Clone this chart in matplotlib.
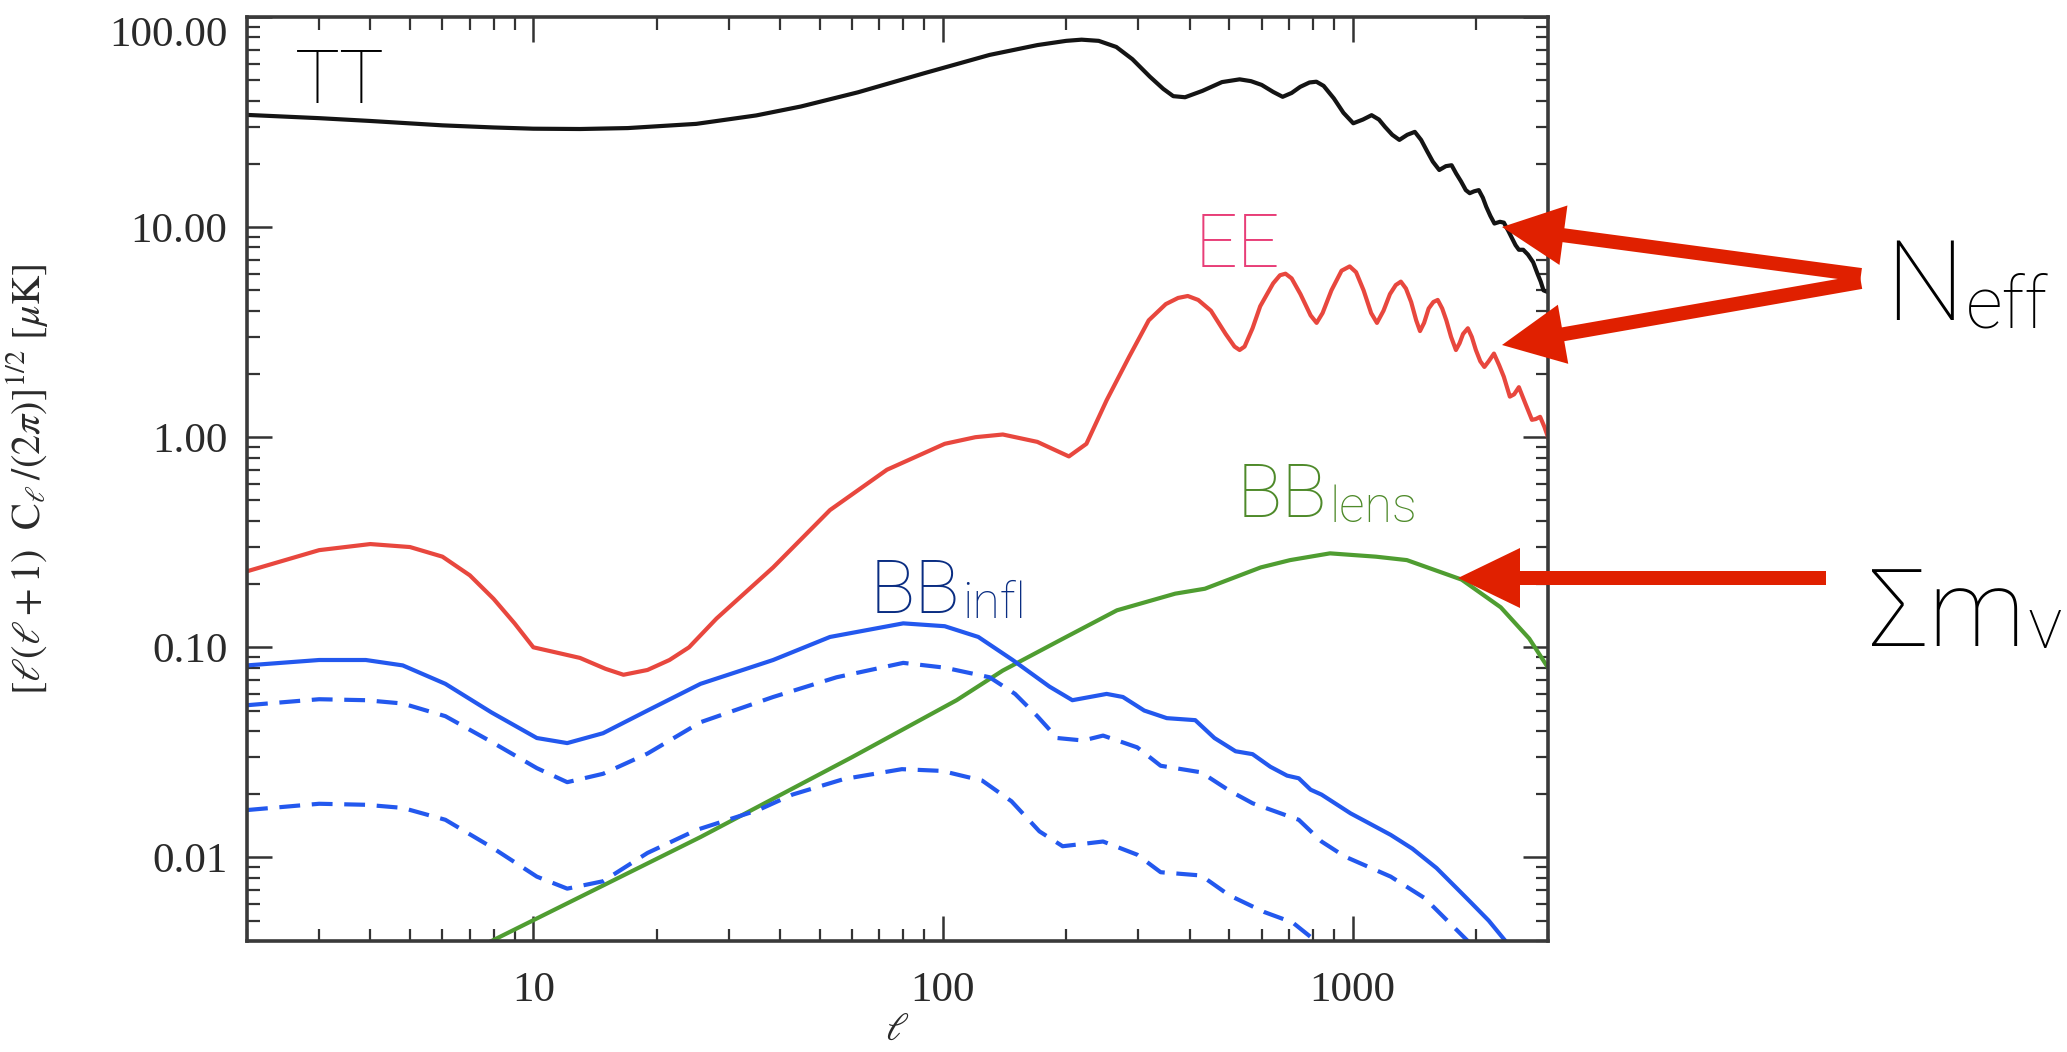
import numpy as np
import matplotlib
matplotlib.use('Agg')
import matplotlib.pyplot as plt
from matplotlib.patches import FancyArrow
from matplotlib.transforms import IdentityTransform
from matplotlib.ticker import LogLocator, NullFormatter

plt.rcParams['mathtext.fontset'] = 'stix'

# ---- data: multipole ell and [l(l+1)C_l/2pi]^(1/2) in uK ----
ell_tt = [2, 3, 4, 6, 8, 10, 13, 17, 25, 35, 45, 62, 90, 130, 170, 200, 218, 240,
          265, 290, 320, 345, 365, 390, 430, 480, 530, 565, 600, 640, 675, 710, 745,
          785, 816, 850, 900, 950, 1004, 1060, 1113, 1160, 1200, 1250, 1301, 1360,
          1419, 1470, 1520, 1570, 1628, 1690, 1745, 1790, 1840, 1890, 1932, 1980,
          2033, 2080, 2120, 2170, 2220, 2290, 2341, 2400, 2440, 2500, 2547, 2610,
          2680, 2760, 2828, 2880, 2925, 3000]
tt = [34.2, 33.0, 32.0, 30.5, 29.8, 29.4, 29.3, 29.6, 31.0, 34.0, 37.5, 43.8, 54.0,
      66.0, 73.5, 77.0, 78.0, 77.0, 72.0, 63.0, 52.0, 45.5, 42.0, 41.5, 44.5, 49.0,
      50.5, 49.5, 47.5, 44.0, 41.7, 43.5, 46.5, 48.8, 49.2, 47.0, 41.0, 35.0, 31.2,
      32.5, 34.1, 32.5, 30.0, 27.5, 26.0, 27.5, 28.4, 26.0, 23.0, 20.5, 18.7, 19.5,
      19.7, 18.0, 16.5, 15.0, 14.5, 14.8, 15.0, 13.8, 12.5, 11.3, 10.4, 10.6, 10.5,
      9.6, 9.0, 8.2, 7.8, 7.8, 7.4, 6.8, 6.0, 5.5, 5.0, 4.9]

ell_ee = [2, 3, 4, 5, 6, 7, 8, 9, 10, 11.5, 13, 15, 16.6, 19, 21.5, 24, 28, 38.5,
          53, 73, 101, 120, 140, 170, 203, 224, 251, 285, 318, 350, 375, 396, 420,
          451, 490, 515, 530, 545, 570, 595, 640, 665, 686, 710, 746, 790, 817, 845,
          888, 940, 984, 1020, 1064, 1110, 1147, 1190, 1234, 1275, 1312, 1350, 1390,
          1430, 1461, 1495, 1534, 1575, 1614, 1655, 1694, 1740, 1788, 1825, 1861,
          1912, 1955, 2000, 2050, 2098, 2150, 2214, 2280, 2340, 2421, 2480, 2547,
          2640, 2741, 2800, 2870, 2940, 3000]
ee = [0.23, 0.29, 0.31, 0.30, 0.27, 0.22, 0.17, 0.13, 0.10, 0.094, 0.089, 0.079,
      0.074, 0.078, 0.087, 0.10, 0.137, 0.24, 0.45, 0.70, 0.93, 1.0, 1.03, 0.95,
      0.81, 0.93, 1.5, 2.42, 3.6, 4.3, 4.6, 4.7, 4.5, 4.0, 3.1, 2.7, 2.6, 2.7, 3.3,
      4.2, 5.4, 5.9, 6.0, 5.7, 4.8, 3.8, 3.5, 3.9, 5.0, 6.2, 6.5, 6.1, 5.0, 3.9,
      3.5, 4.0, 4.8, 5.3, 5.5, 5.1, 4.4, 3.6, 3.2, 3.5, 4.1, 4.4, 4.5, 4.1, 3.6,
      3.0, 2.6, 2.8, 3.1, 3.3, 3.0, 2.6, 2.3, 2.16, 2.3, 2.5, 2.2, 1.94, 1.56, 1.6,
      1.73, 1.45, 1.21, 1.22, 1.25, 1.12, 1.0]

ell_bb = [2, 3, 3.9, 4.8, 6.1, 7.9, 10.2, 12.1, 14.8, 19, 25.6, 38.5, 53, 80, 101,
          122, 148, 182, 207, 251, 275, 310, 352, 413, 460, 518, 570, 630, 692, 739,
          790, 840, 989, 1100, 1239, 1400, 1603, 1800, 1945, 2150, 2362, 2450]
bb_infl = [0.082, 0.087, 0.087, 0.082, 0.067, 0.049, 0.037, 0.035, 0.039, 0.050,
           0.067, 0.087, 0.112, 0.130, 0.126, 0.112, 0.087, 0.065, 0.056, 0.060,
           0.058, 0.050, 0.046, 0.045, 0.037, 0.032, 0.031, 0.027, 0.0245, 0.0238,
           0.021, 0.0199, 0.0162, 0.0145, 0.0128, 0.011, 0.0089, 0.0071, 0.0061,
           0.0050, 0.004, 0.0037]

ell_bb_mid = [2, 3, 3.9, 4.8, 6.1, 7.9, 10.2, 12.1, 14.8, 19, 25.6, 38.5, 55, 80,
              101, 130, 150, 170, 190, 220, 246, 298, 340, 427, 500, 570, 692, 739,
              840, 957, 1239, 1500, 1911, 2000]
bb_mid = [0.053, 0.0566, 0.056, 0.054, 0.047, 0.0355, 0.0266, 0.0228, 0.025, 0.0312,
          0.044, 0.058, 0.072, 0.0843, 0.080, 0.072, 0.060, 0.047, 0.037, 0.036,
          0.038, 0.0334, 0.0273, 0.0254, 0.0208, 0.0181, 0.0158, 0.0151, 0.0119,
          0.0101, 0.0081, 0.0064, 0.004, 0.0037]

ell_bb_low = [2, 3, 3.9, 4.8, 6.1, 7.9, 10.2, 12.1, 14.8, 19, 25, 35.4, 42.9, 57.3,
              79.4, 99.5, 124.7, 147, 172, 196, 246, 298, 340, 427, 500, 608, 714,
              813, 850]
bb_low = [0.0168, 0.018, 0.0178, 0.0172, 0.0151, 0.0112, 0.0081, 0.0071, 0.0077,
          0.0105, 0.0135, 0.0168, 0.0199, 0.0236, 0.0263, 0.0258, 0.0232, 0.0185,
          0.0133, 0.0113, 0.0119, 0.0103, 0.0085, 0.0082, 0.0066, 0.0055, 0.0049,
          0.004, 0.0037]

ell_lens = [7.5, 25.6, 60, 108, 140, 193, 266, 369, 436, 597, 704, 881, 1000, 1140,
            1357, 1846, 2300, 2700, 3000]
bb_lens = [0.0038, 0.0125, 0.03, 0.056, 0.0775, 0.108, 0.15, 0.18, 0.19, 0.24, 0.26,
           0.28, 0.275, 0.27, 0.26, 0.21, 0.155, 0.11, 0.08]

yticks = [0.01, 0.1, 1, 10, 100]
ylabels = ['0.01', '0.10', '1.00', '10.00', '100.00']
xticks = [10, 100, 1000]
xlabels = ['10', '100', '1000']

W, H = 2067, 1052
fig = plt.figure(figsize=(W / 100, H / 100), dpi=100)
ax = fig.add_axes([247 / W, (H - 941) / H, (1548 - 247) / W, (941 - 17) / H])

lw = 3.0
dash = (5, 2.8)
ax.plot(ell_tt, tt, color='#141414', lw=lw)
ax.plot(ell_ee, ee, color='#e8473e', lw=lw)
ax.plot(ell_lens, bb_lens, color='#4f9d31', lw=lw)
ax.plot(ell_bb, bb_infl, color='#2358ee', lw=lw)
ax.plot(ell_bb_mid, bb_mid, color='#2358ee', lw=lw, dashes=dash)
ax.plot(ell_bb_low, bb_low, color='#2358ee', lw=lw, dashes=dash)

ax.set_xscale('log')
ax.set_yscale('log')
ax.set_xlim(2, 3000)
ax.set_ylim(0.004, 100)

ax.set_xticks(xticks)
ax.set_xticklabels(xlabels)
ax.set_yticks(yticks)
ylab = ax.set_yticklabels(ylabels)
ax.xaxis.set_minor_locator(LogLocator(base=10, subs=range(2, 10), numticks=20))
ax.yaxis.set_minor_locator(LogLocator(base=10, subs=range(2, 10), numticks=20))
ax.xaxis.set_minor_formatter(NullFormatter())
ax.yaxis.set_minor_formatter(NullFormatter())

for lab in ax.get_xticklabels() + ax.get_yticklabels():
    lab.set_fontfamily('Liberation Serif')
    lab.set_fontsize(31)
    lab.set_color('#2a2a2a')
ylab[-1].set_va('top')

ax.tick_params(which='both', direction='in', top=True, right=True, color='#333333')
ax.tick_params(which='major', length=18, width=1.8)
ax.tick_params(which='minor', length=9, width=1.6)
ax.tick_params(axis='y', pad=14)
ax.tick_params(axis='x', pad=22)
for s in ax.spines.values():
    s.set_linewidth(2.6)
    s.set_color('#3a3a3a')

ax.set_ylabel(r'$[\ell(\ell+1)\ \ \mathrm{C}_\ell\,/(2\pi)]^{1/2}\ [\mu\mathrm{K}]$',
              fontsize=29, color='#2a2a2a')
ax.yaxis.set_label_coords((50 - 247) / 1301, 0.5)
ax.set_xlabel(r'$\ell$', fontsize=28, color='#2a2a2a')
ax.xaxis.set_label_coords(0.5, -(1010 - 941) / 924)

# ---- annotations ----
renderer = fig.canvas.get_renderer()


def label(x, y, main, sub, size, subsize, color, drop):
    t = fig.text(x / W, 1 - y / H, main, fontsize=size, color=color,
                 ha='left', va='baseline', fontfamily='Roboto', fontweight='light')
    if sub:
        bb = t.get_window_extent(renderer)
        fig.text((bb.x1 + 2) / W, 1 - (y + drop) / H, sub, fontsize=subsize,
                 color=color, ha='left', va='baseline', fontfamily='Roboto',
                 fontweight='light')


label(295, 103, 'TT', '', 54, 0, '#000000', 0)
label(1195, 267, 'EE', '', 54, 0, '#e83e78', 0)
label(870, 613, 'BB', 'infl', 54, 36, '#0a2d82', 5)
label(1237, 517, 'BB', 'lens', 54, 36, '#4e8a2a', 5)
label(1885, 320, 'N', 'eff', 80, 52, '#000000', 8)
label(1869, 646, '\u03a3m', '\u03bd', 78, 52, '#000000', 2)

red = '#e02000'
arrows = [((1861, H - 275), (1502, H - 227)),
          ((1861, H - 282), (1502, H - 345)),
          ((1826, H - 578), (1458, H - 578))]
for (x0, y0), (x1, y1) in arrows:
    a = FancyArrow(x0, y0, x1 - x0, y1 - y0, width=14, head_width=60,
                   head_length=62, length_includes_head=True, color=red,
                   lw=0, transform=IdentityTransform())
    fig.add_artist(a)

fig.savefig('out.png', dpi=100)
